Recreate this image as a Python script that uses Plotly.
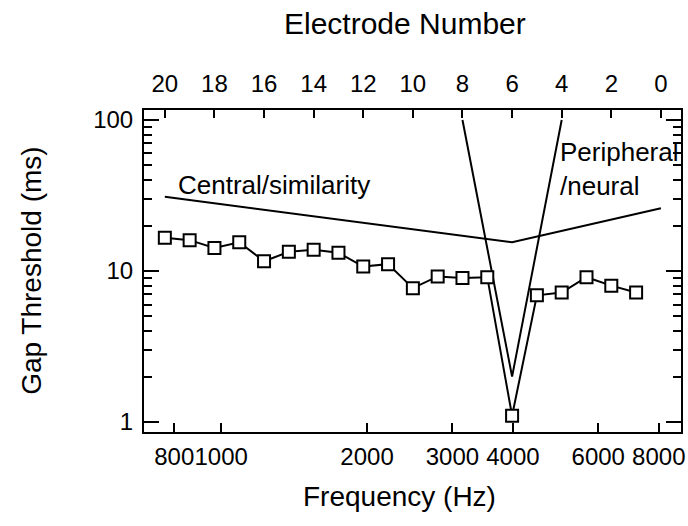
import plotly.graph_objects as go

# Gap-detection thresholds measured on each electrode (20 = most apical)
electrodes = [20, 19, 18, 17, 16, 15, 14, 13, 12, 11, 10, 9, 8, 7, 6, 5, 4, 3, 2, 1]
gap_ms = [16.6, 16.0, 14.2, 15.5, 11.6, 13.4, 13.8, 13.2, 10.7, 11.1,
          7.7, 9.2, 9.0, 9.1, 1.1, 6.9, 7.2, 9.1, 8.0, 7.2]

# Predicted threshold profiles of the two models
central_electrode = [20, 6, 0]
central_ms = [31, 15.5, 26]
peripheral_electrode = [8, 6, 4]
peripheral_ms = [100, 2, 100]

# Axis ticks
freq_ticks = [800, 1000, 2000, 3000, 4000, 6000, 8000]
freq_labels = ["800", "1000", "2000", "3000", "4000", "6000", "8000"]
electrode_ticks = [20, 18, 16, 14, 12, 10, 8, 6, 4, 2, 0]
gap_ticks = [1, 10, 100]
gap_minor = [2, 3, 4, 5, 6, 7, 8, 9, 20, 30, 40, 50, 60, 70, 80, 90]

FONT = "Liberation Sans, Arial, Helvetica, sans-serif"
W, H = 688, 526
L, R, T, B = 144, 3, 110, 94

fig = go.Figure()

# anchors the frequency axis on the bottom
fig.add_trace(go.Scatter(x=[], y=[], xaxis="x", yaxis="y", showlegend=False))

fig.add_trace(go.Scatter(
    x=central_electrode, y=central_ms, xaxis="x2", yaxis="y",
    mode="lines", line=dict(color="black", width=2), showlegend=False))
fig.add_trace(go.Scatter(
    x=peripheral_electrode, y=peripheral_ms, xaxis="x2", yaxis="y",
    mode="lines", line=dict(color="black", width=2), showlegend=False))
fig.add_trace(go.Scatter(
    x=electrodes, y=gap_ms, xaxis="x2", yaxis="y",
    mode="lines+markers",
    line=dict(color="black", width=2),
    marker=dict(symbol="square", size=12, color="white",
                line=dict(color="black", width=2)),
    showlegend=False))

tickfont = dict(family=FONT, size=24, color="black")

fig.update_layout(
    width=W, height=H,
    margin=dict(l=L, r=R, t=T, b=B),
    paper_bgcolor="white", plot_bgcolor="white",
    xaxis=dict(
        type="log", range=[2.8407, 3.9489],
        tickvals=freq_ticks, ticktext=freq_labels, tickangle=0,
        ticks="inside", ticklen=9, tickwidth=2, tickcolor="black",
        showline=True, linecolor="black", linewidth=2,
        showgrid=False, zeroline=False,
        tickfont=tickfont, ticklabelstandoff=2,
        ticklabeloverflow="allow",
    ),
    xaxis2=dict(
        overlaying="x", side="top", anchor="y",
        range=[20.84, -0.81],
        tickvals=electrode_ticks, tickangle=0,
        ticks="inside", ticklen=8, tickwidth=2, tickcolor="black",
        showline=True, linecolor="black", linewidth=2,
        showgrid=False, zeroline=False,
        tickfont=tickfont, ticklabelstandoff=6,
        ticklabeloverflow="allow",
    ),
    yaxis=dict(
        type="log", range=[-0.066, 2.066],
        tickvals=gap_ticks,
        ticks="inside", ticklen=15, tickwidth=2, tickcolor="black",
        showline=True, linecolor="black", linewidth=2, mirror="ticks",
        showgrid=False, zeroline=False,
        tickfont=tickfont, ticklabelstandoff=4,
        minor=dict(tickvals=gap_minor, ticks="inside", ticklen=8,
                   tickwidth=2, tickcolor="black", showgrid=False),
    ),
)


def px(xp):
    return (xp - L) / (W - L - R)


def py(yp):
    return (H - B - yp) / (H - T - B)


title_font = dict(family=FONT, size=30, color="black")
axis_font = dict(family=FONT, size=28, color="black")
label_font = dict(family=FONT, size=26, color="black")


def note(text, x, y, font, xanchor="center", angle=0):
    fig.add_annotation(text=text, x=px(x), y=py(y),
                       xref="paper", yref="paper", showarrow=False,
                       xanchor=xanchor, yanchor="middle", textangle=angle,
                       align="left", font=font)


note("Electrode Number", 407, 23, title_font)
note("Frequency (Hz)", 401, 497, axis_font)
note("Gap Threshold (ms)", 30, 271, axis_font, angle=-90)
note("Central/similarity", 176, 185, label_font, xanchor="left")
note("Peripheral<br>/neural", 561, 169, label_font, xanchor="left")

fig.write_html("out.html")
